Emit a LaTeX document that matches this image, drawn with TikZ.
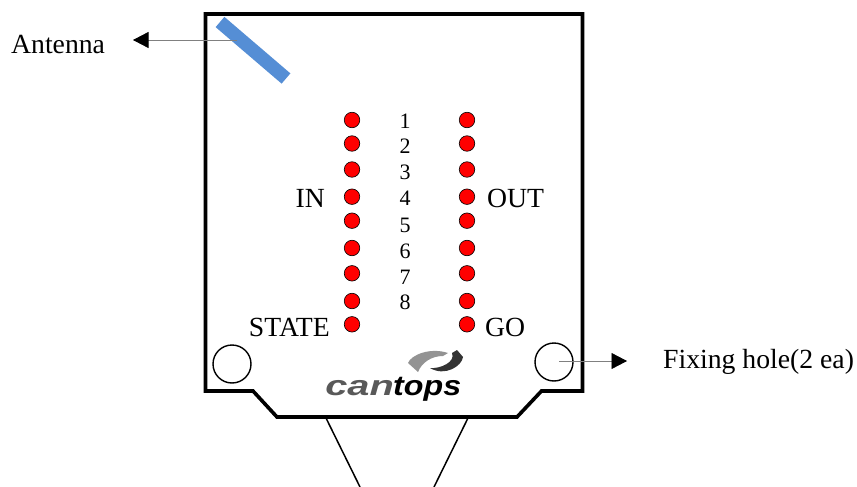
\documentclass[tikz,border=0pt]{standalone}
\usepackage{fontspec}
\usepackage{tikz}
\usetikzlibrary{arrows.meta}
\setmainfont{Liberation Serif}
\newfontfamily\logofont{Liberation Sans}
\definecolor{antblue}{HTML}{558ED5}
\tikzset{
	led/.style={circle,draw=black,fill=red,line width=0.6pt,minimum size=15.5pt,inner sep=0pt},
	hole/.style={circle,draw=black,line width=1.4pt,minimum size=38pt,inner sep=0pt},
	lbl/.style={inner sep=0pt,font=\fontsize{27.7}{27.7}\selectfont},
	num/.style={inner sep=0pt,font=\fontsize{22}{22}\selectfont},
	logotxt/.style={inner sep=0pt,anchor=base west,font=\logofont\bfseries\itshape\fontsize{28}{28}\selectfont},
	leader/.style={gray,line width=0.7pt,-{Triangle[length=15.5pt,width=16pt,black]}}
}
\begin{document}
\begin{tikzpicture}[x=1pt,y=-1pt]
		\useasboundingbox (0,0) rectangle (857,487);
		\draw[line width=3.6pt,miter limit=10] (253,391) -- (205.5,391) -- (205.5,14) -- (582.5,14) -- (582.5,391) -- (541.5,391) -- (517,417) -- (277,417) -- cycle;
		\coordinate (leadL) at (360,487);
		\coordinate (leadR) at (434,487);
		\coordinate (topL) at (326,418);
		\coordinate (topR) at (468,418);
		\draw[line width=1.5pt] (topL) -- (leadL);
		\draw[line width=1.5pt] (topR) -- (leadR);
		% antenna
		\coordinate (antA) at (220,22);
		\coordinate (antB) at (286,78.5);
		\draw[antblue,line width=13.5pt] (antA) -- (antB);
		\coordinate (antIn) at (237,40);
		\coordinate (antTip) at (133,40);
		\draw[leader] (antIn) -- (antTip);
		\node[lbl,anchor=west] (antenna) at (11,44) {Antenna};
		% LEDs
		\foreach \n/\y in {1/120,2/143.5,3/169.5,4/196.7,5/220.7,6/248,7/273.3,8/301,9/324.3}{
			\node[led] (inled\n) at (352,\y) {};
			\node[led] (outled\n) at (467,\y) {};
		}
		\foreach \n/\y in {1/121,2/146,3/172,4/198,5/225,6/251,7/277,8/302}
			\node[num] (num\n) at (405,\y) {\n};
		\node[lbl,anchor=east] (inlbl) at (325,198) {IN};
		\node[lbl,anchor=west] (outlbl) at (487,198) {OUT};
		\node[lbl,anchor=east] (statelbl) at (330,327) {STATE};
		\node[lbl,anchor=west] (golbl) at (485,327) {GO};
		% fixing holes
		\node[hole] (holeL) at (232,364) {};
		\node[hole] (holeR) at (554,362) {};
		\coordinate (fixIn) at (559,361);
		\coordinate (fixTip) at (627,361);
		\draw[leader] (fixIn) -- (fixTip);
		\node[lbl,anchor=west] (fixlbl) at (663,362) {Fixing hole(2 ea)};
		% logo
		\fill[gray!85] (408,363) .. controls (411,355) and (430,347) .. (448,353) -- (443,356) .. controls (432,356) and (422,362) .. (418,372) -- cycle;
		\fill[black!80] (457,350) -- (463,357) .. controls (462,366) and (445,377) .. (430,368) .. controls (440,369) and (456,362) .. (452,353) -- cycle;
		\node[logotxt,xscale=1.42,text=black!65] (logocan) at (325,395) {can};
		\node[logotxt,xscale=1.15] (logotops) at (393,395) {tops};
\end{tikzpicture}
\end{document}
